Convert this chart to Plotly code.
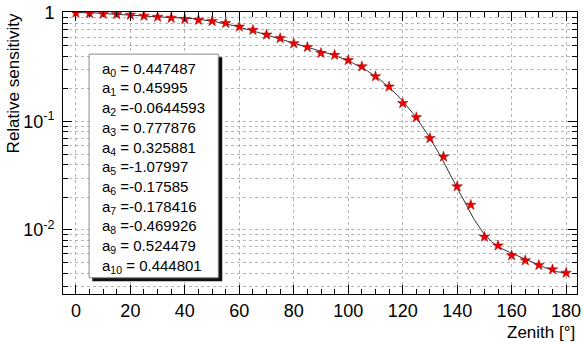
import numpy as np
import plotly.graph_objects as go

# ---- data ----
zenith = [0, 5, 10, 15, 20, 25, 30, 35, 40, 45, 50, 55, 60, 65, 70, 75, 80, 85, 90,
          95, 100, 105, 110, 115, 120, 125, 130, 135, 140, 145, 150, 155, 160, 165,
          170, 175, 180]
sensitivity = [1.0, 0.993, 0.98, 0.973, 0.96, 0.94, 0.92, 0.90, 0.877, 0.86, 0.84,
               0.806, 0.746, 0.696, 0.63, 0.584, 0.523, 0.484, 0.427, 0.409, 0.366,
               0.321, 0.260, 0.209, 0.147, 0.109, 0.070, 0.0473, 0.0251, 0.0170,
               0.00863, 0.00716, 0.00581, 0.00523, 0.00473, 0.00432, 0.00401]

# fit parameters shown in the box (fit = sum a_i cos^i(zenith))
params = [0.447487, 0.45995, -0.0644593, 0.777876, 0.325881, -1.07997, -0.17585,
          -0.178416, -0.469926, 0.524479, 0.444801]
param_text = ["0.447487", "0.45995", "-0.0644593", "0.777876", "0.325881", "-1.07997",
              "-0.17585", "-0.178416", "-0.469926", "0.524479", "0.444801"]

y_tickvals = [0.01, 0.1, 1]
y_ticktext = ["10<sup>-2</sup>", "10<sup>-1</sup>", "1"]

FONT = "Liberation Sans, Arial, Helvetica, sans-serif"

th = np.linspace(0, 180, 721)
c = np.cos(np.radians(th))
fit = sum(a * c ** i for i, a in enumerate(params))

fig = go.Figure()
fig.add_trace(go.Scatter(x=th, y=fit, mode="lines",
                         line=dict(color="#333333", width=1), hoverinfo="skip"))
fig.add_trace(go.Scatter(x=zenith, y=sensitivity, mode="markers",
                         marker=dict(symbol="star", size=8, color="#ee0000",
                                     line=dict(color="#990000", width=0.5))))

W, H = 584, 344
L, R, T, B = 63, 581, 8, 294
pw, ph = R - L, B - T


def px(x):
    return (x - L) / pw


def py(y):
    return (B - y) / ph


minor_y = [m * 10.0 ** e for e in (-3, -2, -1) for m in range(2, 10)]
minor_y = [v for v in minor_y if v > 0.0026]

fig.update_layout(
    width=W, height=H,
    margin=dict(l=L, r=W - R, t=T, b=H - B),
    paper_bgcolor="white", plot_bgcolor="white",
    showlegend=False,
    font=dict(family=FONT, color="black", size=16),
)
fig.update_xaxes(
    range=[-4.74, 184.0], tickmode="linear", tick0=0, dtick=20,
    ticks="inside", ticklen=9, tickcolor="black", tickwidth=1,
    showline=True, linecolor="black", linewidth=1, mirror="allticks",
    showgrid=True, gridcolor="#b4b4b4", griddash="dot", gridwidth=1,
    zeroline=False, tickfont=dict(size=18, family=FONT),
    ticklabeloverflow="allow",
    minor=dict(tickmode="linear", tick0=0, dtick=5, ticks="inside", ticklen=5,
               tickcolor="black", showgrid=False),
)
fig.update_yaxes(
    type="log", range=[-2.591, 0.009], tickmode="array",
    tickvals=y_tickvals, ticktext=y_ticktext,
    ticks="inside", ticklen=9, tickcolor="black", tickwidth=1,
    showline=True, linecolor="black", linewidth=1, mirror="allticks",
    showgrid=True, gridcolor="#b4b4b4", griddash="dot", gridwidth=1,
    zeroline=False, tickfont=dict(size=18, family=FONT), ticklabelstandoff=4,
    ticklabeloverflow="allow",
    minor=dict(tickmode="array", tickvals=minor_y, ticks="inside", ticklen=5,
               tickcolor="black", showgrid=True, gridcolor="#b4b4b4",
               griddash="dot", gridwidth=1),
)

# parameter box with shadow
fig.add_shape(type="rect", xref="paper", yref="paper",
              x0=px(92.5), x1=px(223.5), y0=py(281), y1=py(54),
              fillcolor="#111111", line=dict(width=0), layer="above")
fig.add_shape(type="rect", xref="paper", yref="paper",
              x0=px(89.3), x1=px(219.5), y0=py(277.5), y1=py(50.7),
              fillcolor="white", line=dict(color="#888888", width=1), layer="above")

line_y = [66, 86, 106, 126, 146, 166, 186, 206, 226, 246, 266.5]
for i, (t, yy) in enumerate(zip(param_text, line_y)):
    sep = " =" if t.startswith("-") else " = "
    fig.add_annotation(xref="paper", yref="paper", x=px(100), y=py(yy),
                       xanchor="left", yanchor="middle", showarrow=False,
                       text=f"a<sub>{i}</sub>{sep}{t}",
                       font=dict(size=15, family=FONT, color="black"))

fig.add_annotation(xref="paper", yref="paper", x=px(581), y=py(333),
                   xanchor="right", yanchor="middle", showarrow=False,
                   text="Zenith [°]", font=dict(size=17, family=FONT))
fig.add_annotation(xref="paper", yref="paper", x=px(13), y=py(7),
                   xanchor="center", yanchor="top", showarrow=False, textangle=-90,
                   text="Relative sensitivity", font=dict(size=17, family=FONT))

fig.write_html("out.html")
